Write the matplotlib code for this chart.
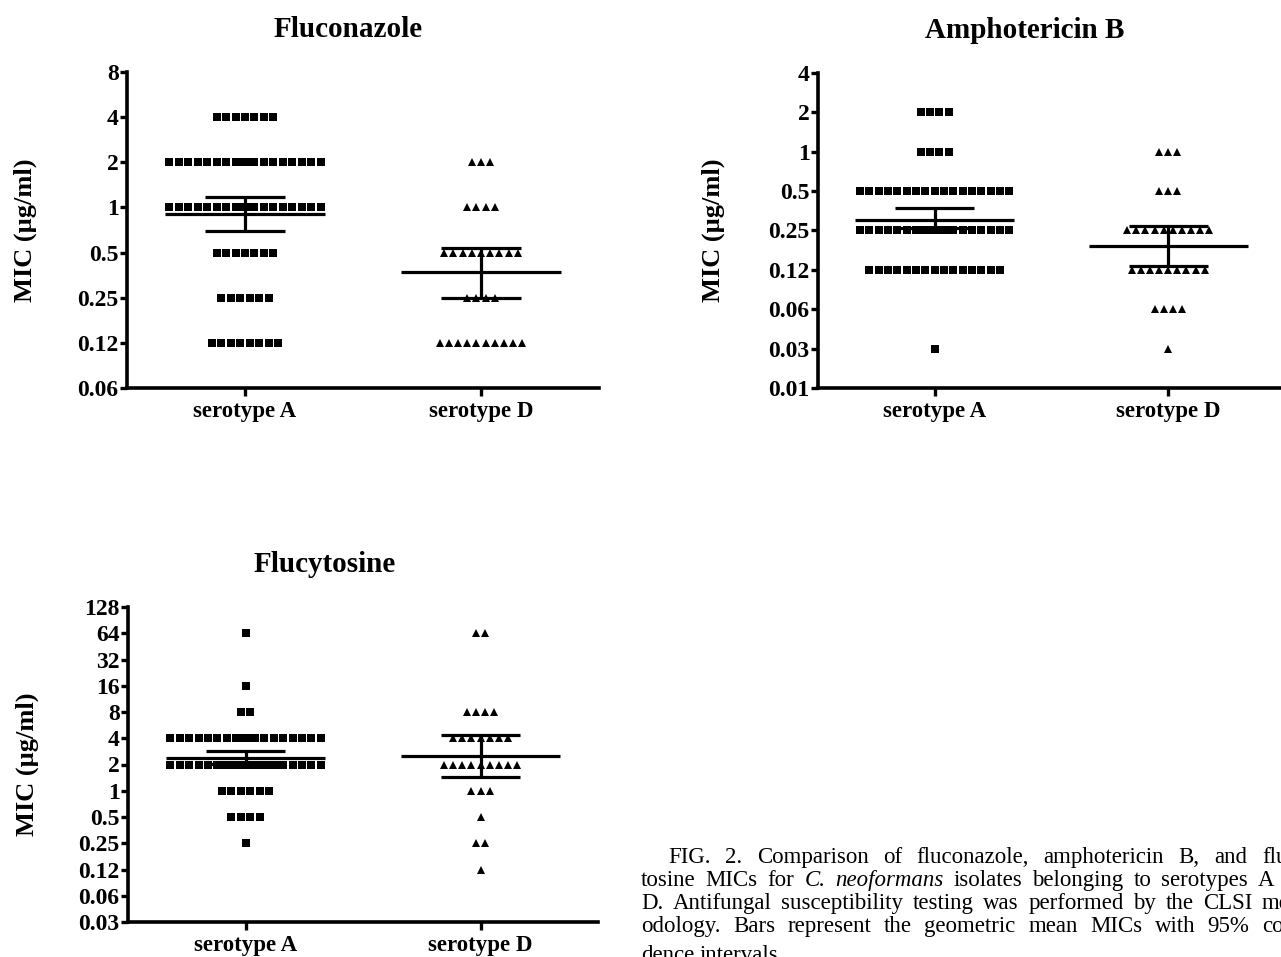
import numpy as np
import matplotlib
matplotlib.use("Agg")
import matplotlib.pyplot as plt

# ---------------- data ----------------
groups = ["serotype A", "serotype D"]

flu_levels = [4, 2, 1, 0.5, 0.25, 0.125]
flu_A_counts = [7, 21, 20, 7, 6, 8]
flu_D_counts = [0, 3, 4, 9, 4, 10]
flu_mean = [0.91, 0.37]
flu_ci_low = [0.70, 0.25]
flu_ci_high = [1.17, 0.54]
flu_ticks = [0.0625, 0.125, 0.25, 0.5, 1, 2, 4, 8]
flu_ticklabels = ["0.06", "0.12", "0.25", "0.5", "1", "2", "4", "8"]

amb_levels = [2, 1, 0.5, 0.25, 0.125, 0.0625, 0.03125]
amb_A_counts = [4, 4, 17, 24, 15, 0, 1]
amb_D_counts = [0, 3, 3, 10, 9, 4, 1]
amb_mean = [0.30, 0.19]
amb_ci_low = [0.26, 0.134]
amb_ci_high = [0.37, 0.27]
amb_ticks = [0.015625, 0.03125, 0.0625, 0.125, 0.25, 0.5, 1, 2, 4]
amb_ticklabels = ["0.01", "0.03", "0.06", "0.12", "0.25", "0.5", "1", "2", "4"]

fc_levels = [64, 16, 8, 4, 2, 1, 0.5, 0.25, 0.125]
fc_A_counts = [1, 1, 2, 21, 30, 6, 4, 1, 0]
fc_D_counts = [2, 0, 4, 7, 9, 3, 1, 2, 1]
fc_mean = [2.37, 2.5]
fc_ci_low = [2.02, 1.45]
fc_ci_high = [2.85, 4.4]
fc_ticks = [0.03125, 0.0625, 0.125, 0.25, 0.5, 1, 2, 4, 8, 16, 32, 64, 128]
fc_ticklabels = ["0.03", "0.06", "0.12", "0.25", "0.5", "1", "2", "4", "8",
                 "16", "32", "64", "128"]

caption_lines = [
    ["FIG.", "2.", "Comparison", "of", "fluconazole,", "amphotericin", "B,", "and", "flu-"],
    ["tosine", "MICs", "for", "*C.", "*neoformans", "isolates", "belonging", "to",
     "serotypes", "A", "and"],
    ["D.", "Antifungal", "susceptibility", "testing", "was", "performed", "by", "the",
     "CLSI", "meth-"],
    ["odology.", "Bars", "represent", "the", "geometric", "mean", "MICs", "with",
     "95%", "confi-"],
    ["dence", "intervals."],
]

# ---------------- layout ----------------
W, H = 1281, 957
fig = plt.figure(figsize=(W / 100, H / 100), dpi=100)
fig.patch.set_facecolor("white")

SERIF = "Liberation Serif"


def add_axes_px(left, right, top, bottom):
    return fig.add_axes([left / W, 1 - bottom / H, (right - left) / W, (bottom - top) / H])


def row_offsets(n, d=0.04, cap=17):
    if n <= cap:
        return [(i - (n - 1) / 2) * d for i in range(n)]
    base = [(i - (cap - 1) / 2) * d for i in range(cap)]
    m = n - cap
    extra = [(j - (m - 1) / 2) * (d / 2) + d / 4 for j in range(m)]
    return base + extra


def panel(ax, title, title_x, levels, counts_A, counts_D, mean, lo, hi, ticks, ticklabels):
    markers = ["s", "^"]
    for g, counts in enumerate([counts_A, counts_D]):
        xs, ys = [], []
        for lev, c in zip(levels, counts):
            if c == 0:
                continue
            offs = row_offsets(c, d=0.04 if g == 0 else 0.039)
            xs += [g + o for o in offs]
            ys += [lev] * c
        ax.plot(xs, ys, linestyle="none", marker=markers[g], color="black",
                markersize=5.2 if g == 0 else 5.6, markeredgewidth=0, zorder=3)
        # geometric mean line and 95% CI
        ax.hlines(mean[g], g - 0.34, g + 0.34, color="black", lw=2.3, zorder=4)
        ax.hlines([lo[g], hi[g]], g - 0.17, g + 0.17, color="black", lw=2.3, zorder=4)
        ax.vlines(g, lo[g], hi[g], color="black", lw=2.3, zorder=4)
    ax.set_yscale("log", base=2)
    ax.set_ylim(ticks[0], ticks[-1])
    ax.set_xlim(-0.5, 1.5)
    ax.set_yticks(ticks)
    ax.set_yticklabels(ticklabels)
    ax.yaxis.set_minor_locator(matplotlib.ticker.NullLocator())
    ax.set_xticks([0, 1])
    ax.set_xticklabels(groups)
    for sp in ["top", "right"]:
        ax.spines[sp].set_visible(False)
    for sp in ["left", "bottom"]:
        ax.spines[sp].set_linewidth(2.6)
    ax.tick_params(axis="y", length=5, width=2.4, pad=1)
    ax.tick_params(axis="x", length=6, width=2.4, pad=3)
    for lab in ax.get_yticklabels():
        lab.set_fontfamily(SERIF)
        lab.set_fontweight("bold")
        lab.set_fontsize(17)
    for lab in ax.get_xticklabels():
        lab.set_fontfamily(SERIF)
        lab.set_fontweight("bold")
        lab.set_fontsize(16.5)
    ax.set_ylabel("MIC (µg/ml)", fontfamily=SERIF, fontweight="bold", fontsize=19)
    ax.set_title(title, fontfamily=SERIF, fontweight="bold", fontsize=21, pad=25, x=title_x)
    ax.patch.set_alpha(0)


ax1 = add_axes_px(127, 599, 72, 388)
panel(ax1, "Fluconazole", (348 - 127) / 472, flu_levels, flu_A_counts, flu_D_counts,
      flu_mean, flu_ci_low, flu_ci_high, flu_ticks, flu_ticklabels)
ax1.yaxis.set_label_coords(-0.19, 0.5)

ax2 = add_axes_px(818, 1285, 73, 388)
panel(ax2, "Amphotericin B", (1025 - 818) / 467, amb_levels, amb_A_counts, amb_D_counts,
      amb_mean, amb_ci_low, amb_ci_high, amb_ticks, amb_ticklabels)
ax2.yaxis.set_label_coords(-0.2, 0.5)

ax3 = add_axes_px(128, 598, 607, 922)
panel(ax3, "Flucytosine", (325 - 128) / 470, fc_levels, fc_A_counts, fc_D_counts,
      fc_mean, fc_ci_low, fc_ci_high, fc_ticks, fc_ticklabels)
ax3.yaxis.set_label_coords(-0.19, 0.5)

# ---------------- caption (justified) ----------------
renderer = fig.canvas.get_renderer()
cap_fs = 16.5
line_specs = [  # (x_start, anchor_word_index, anchor_x, baseline_y)
    (668, 8, 1262, 863),
    (641, 9, 1258, 886),
    (641, 9, 1262, 909),
    (641, 9, 1262, 932),
    (641, None, None, 961),
]
for words, (x0, ai, ax_, yb) in zip(caption_lines, line_specs):
    texts = []
    for w in words:
        style = "italic" if w.startswith("*") else "normal"
        t = fig.text(0, 0, w.lstrip("*"), fontfamily=SERIF, fontsize=cap_fs,
                     style=style, va="baseline", ha="left", transform=None)
        texts.append(t)
    widths = [t.get_window_extent(renderer).width for t in texts]
    if ai is None:
        gap = 5.5
    else:
        gap = (ax_ - x0 - sum(widths[:ai])) / ai
    x = x0
    for t, wd in zip(texts, widths):
        t.set_position((x, H - yb))
        x += wd + gap

fig.savefig("out.png", dpi=100, facecolor="white")
